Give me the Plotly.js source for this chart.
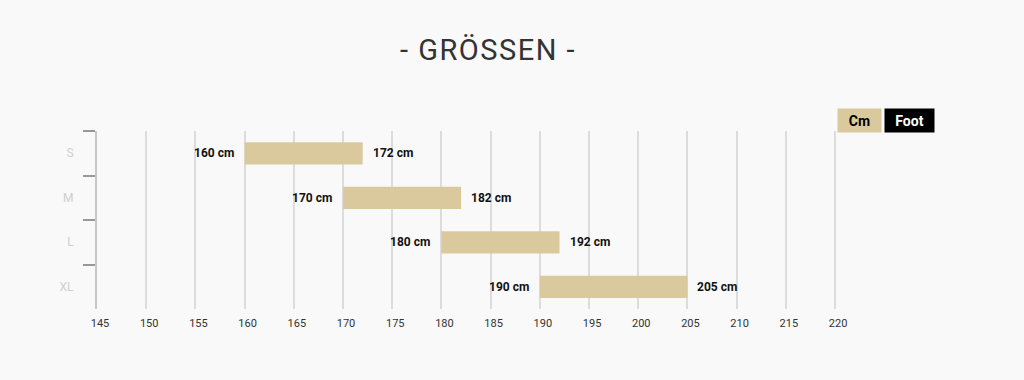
<!DOCTYPE html>
<html>
<head>
<meta charset="utf-8">
<script src="https://cdn.plot.ly/plotly-3.0.1.min.js"></script>
<style>
html,body{margin:0;padding:0;background:#f9f9f9;}
#chart{width:1024px;height:380px;}
</style>
</head>
<body>
<div id="chart"></div>
<script>
const sizes = ["S", "M", "L", "XL"];
const minHeight = [160, 170, 180, 190];
const maxHeight = [172, 182, 192, 205];
const xTicks = [145, 150, 155, 160, 165, 170, 175, 180, 185, 190, 195, 200, 205, 210, 215, 220];
const unitButtons = ["Cm", "Foot"];
const titleText = "- GRÖSSEN -";

const FONT = "Roboto, 'Noto Sans', sans-serif";
const barColor = "#dbc99e";

const barTrace = {
  type: "bar",
  orientation: "h",
  y: sizes,
  base: minHeight,
  x: maxHeight.map((v, i) => v - minHeight[i]),
  width: 0.5,
  marker: {color: barColor},
  hoverinfo: "skip",
  showlegend: false
};

const annotations = [];
sizes.forEach((s, i) => {
  annotations.push({
    x: minHeight[i], y: s, xref: "x", yref: "y",
    text: minHeight[i] + " cm", showarrow: false,
    xanchor: "right", xshift: -9,
    font: {family: FONT, size: 12, color: "#111", weight: "bold"}
  });
  annotations.push({
    x: maxHeight[i], y: s, xref: "x", yref: "y",
    text: maxHeight[i] + " cm", showarrow: false,
    xanchor: "left", xshift: 8,
    font: {family: FONT, size: 12, color: "#111", weight: "bold"}
  });
});

// plot area: x 97..838, y 131..309
const PL = 97, PR = 838, PT = 131, PB = 309;
const px = v => (v - PL) / (PR - PL);
const py = v => (PB - v) / (PB - PT);

annotations.push({
  xref: "paper", yref: "paper", x: px(859.5), y: py(120.5),
  xanchor: "center", yanchor: "middle",
  text: unitButtons[0], showarrow: false, bgcolor: barColor,
  width: 43, height: 23, borderpad: 0,
  font: {family: FONT, size: 14, color: "#000", weight: "bold"}
});
annotations.push({
  xref: "paper", yref: "paper", x: px(909.5), y: py(120.5),
  xanchor: "center", yanchor: "middle",
  text: unitButtons[1], showarrow: false, bgcolor: "#000",
  width: 49, height: 23, borderpad: 0,
  font: {family: FONT, size: 14, color: "#fff", weight: "bold"}
});

const layout = {
  width: 1024, height: 380,
  paper_bgcolor: "#f9f9f9", plot_bgcolor: "#f9f9f9",
  margin: {l: PL, r: 1024 - PR, t: PT, b: 380 - PB},
  font: {family: FONT},
  title: {
    text: titleText, x: 0.4766, xanchor: "center", y: 0.868, yanchor: "middle",
    font: {family: FONT, size: 29, color: "#333"}
  },
  xaxis: {
    range: [145, 220.3], tickvals: xTicks, ticktext: xTicks.map(String),
    showgrid: true, gridcolor: "#dcdcdc", gridwidth: 2,
    zeroline: false, showline: false, ticks: "",
    ticklabelstandoff: 6, ticklabelshift: 3,
    tickfont: {family: FONT, size: 11, color: "#333"},
    fixedrange: true
  },
  yaxis: {
    type: "category", categoryarray: sizes, categoryorder: "array",
    autorange: "reversed",
    showgrid: false, zeroline: false,
    showline: true, linecolor: "#c8c8c8", linewidth: 2,
    ticks: "outside", tickson: "boundaries", ticklen: 12, tickwidth: 2, tickcolor: "#999",
    ticklabelstandoff: 19,
    tickfont: {family: FONT, size: 12, color: "#cfcfcf"},
    fixedrange: true
  },
  annotations: annotations,
  bargap: 0.5
};

Plotly.newPlot("chart", [barTrace], layout, {displayModeBar: false, staticPlot: true}).then(gd => {
  const t = gd.querySelector(".gtitle");
  if (t) t.style.letterSpacing = "1.5px";
});
</script>
</body>
</html>
